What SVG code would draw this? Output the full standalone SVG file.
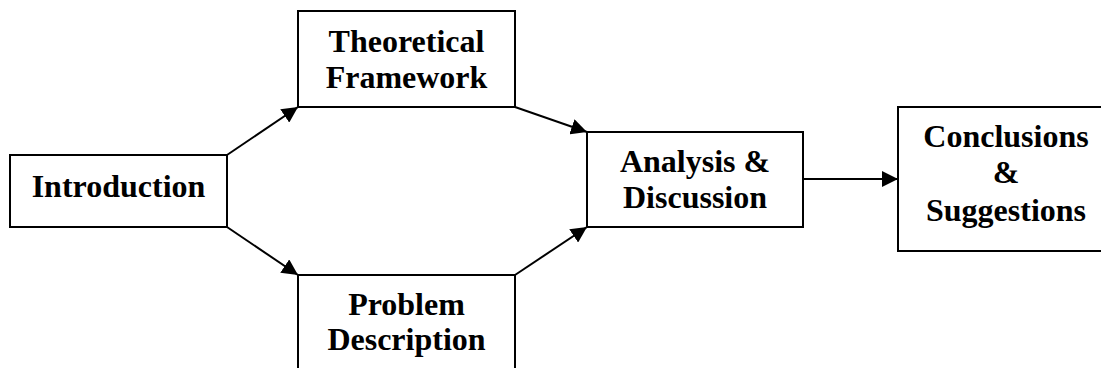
<svg xmlns="http://www.w3.org/2000/svg" width="1101" height="368" viewBox="0 0 1101 368">
<style>
.box{fill:#fff;stroke:#000;stroke-width:2}
.t{font-family:"Liberation Serif","Times New Roman",serif;font-weight:bold;font-size:32px;text-anchor:middle;fill:#000}
.c{stroke:#000;stroke-width:2;fill:none}
</style>
<defs>
<marker id="ah" markerUnits="userSpaceOnUse" markerWidth="17" markerHeight="16" refX="16" refY="8" orient="auto">
<path d="M0,0 L16,8 L0,16 Z" fill="#000"/>
</marker>
</defs>
<rect width="1101" height="368" fill="#fff"/>
<g id="connectors">
<line class="c" x1="227" y1="155" x2="298" y2="107" marker-end="url(#ah)"/>
<line class="c" x1="227" y1="227" x2="298" y2="275" marker-end="url(#ah)"/>
<line class="c" x1="515" y1="107" x2="587" y2="132" marker-end="url(#ah)"/>
<line class="c" x1="515" y1="275" x2="587" y2="227" marker-end="url(#ah)"/>
<line class="c" x1="803" y1="179" x2="898" y2="179" marker-end="url(#ah)"/>
</g>
<g id="introduction">
<rect class="box" x="10" y="155" width="217" height="72"/>
<text class="t" x="118.5" y="197">Introduction</text>
</g>
<g id="theoretical">
<rect class="box" x="298" y="11" width="217" height="96"/>
<text class="t" x="406.5" y="52">Theoretical</text>
<text class="t" x="406.5" y="88">Framework</text>
</g>
<g id="problem">
<rect class="box" x="298" y="275" width="217" height="110"/>
<text class="t" x="406.5" y="315">Problem</text>
<text class="t" x="406.5" y="350">Description</text>
</g>
<g id="analysis">
<rect class="box" x="587" y="132" width="216" height="95"/>
<text class="t" x="695" y="172">Analysis &amp;</text>
<text class="t" x="695" y="208">Discussion</text>
</g>
<g id="conclusions">
<rect class="box" x="898" y="107" width="220" height="144"/>
<text class="t" x="1006" y="147">Conclusions</text>
<text class="t" x="1006" y="183">&amp;</text>
<text class="t" x="1006" y="221">Suggestions</text>
</g>
</svg>
